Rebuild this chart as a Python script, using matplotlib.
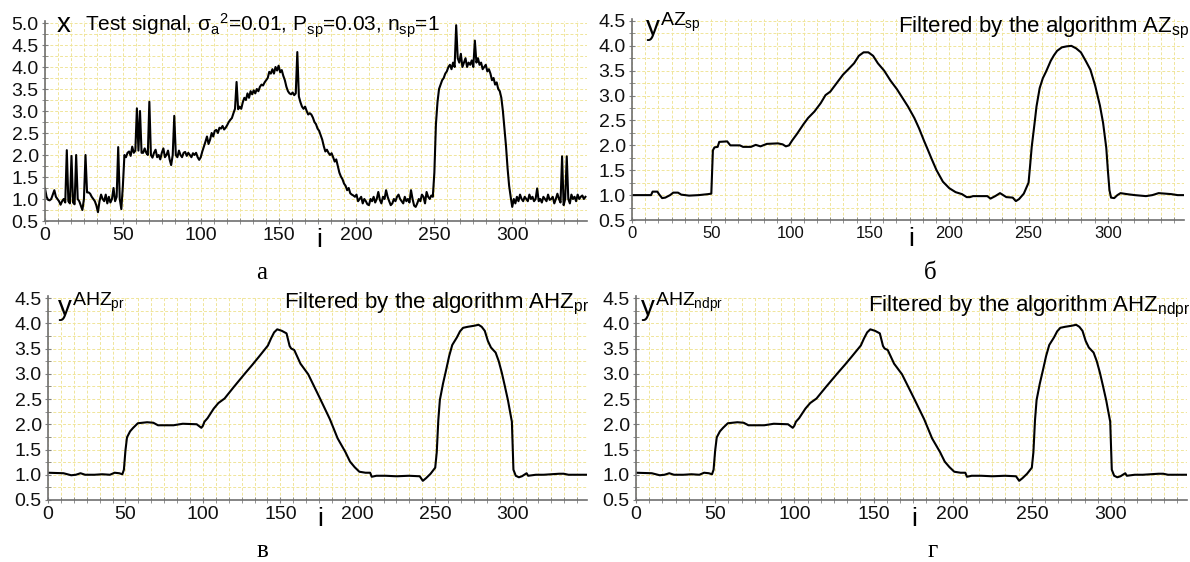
import numpy as np
import matplotlib.pyplot as plt
from matplotlib.ticker import MultipleLocator, FormatStrFormatter

plt.rcParams['font.family'] = 'Liberation Sans'
plt.rcParams['mathtext.fontset'] = 'custom'
plt.rcParams['mathtext.rm'] = 'Liberation Sans'
plt.rcParams['mathtext.it'] = 'Liberation Sans'
plt.rcParams['mathtext.sf'] = 'Liberation Sans'
plt.rcParams['mathtext.bf'] = 'Liberation Sans:bold'

# test signal x(i), i = 0..347
test_signal = [
    1.24, 1.05, 0.98, 0.97, 1.00, 1.10, 1.20, 1.05, 1.00, 0.95,
    0.87, 0.95, 1.00, 0.92, 2.11, 0.95, 0.90, 1.98, 0.92, 0.88,
    2.00, 1.00, 0.95, 0.85, 0.75, 1.00, 2.00, 1.15, 1.15, 1.12,
    1.05, 1.00, 0.95, 0.85, 0.70, 0.95, 1.10, 1.00, 0.95, 1.10,
    0.90, 1.05, 0.92, 1.00, 1.25, 0.95, 1.05, 2.18, 1.00, 0.77,
    1.30, 2.00, 1.95, 2.05, 2.08, 1.98, 2.19, 2.05, 2.10, 3.06,
    2.10, 3.00, 2.05, 2.05, 2.15, 2.05, 2.00, 3.21, 2.00, 1.94,
    2.05, 2.12, 1.95, 2.00, 1.90, 2.05, 2.15, 1.95, 2.00, 2.10,
    1.90, 1.77, 2.00, 2.89, 2.00, 1.95, 2.10, 2.00, 1.95, 2.05,
    2.07, 1.98, 2.05, 2.00, 1.95, 2.04, 2.00, 2.05, 1.95, 1.89,
    1.95, 2.08, 2.19, 2.30, 2.42, 2.25, 2.35, 2.50, 2.42, 2.55,
    2.57, 2.50, 2.62, 2.60, 2.66, 2.58, 2.62, 2.68, 2.75, 2.80,
    2.84, 2.95, 3.05, 3.66, 3.04, 3.10, 3.05, 3.20, 3.30, 3.25,
    3.40, 3.30, 3.45, 3.38, 3.47, 3.40, 3.50, 3.45, 3.55, 3.60,
    3.58, 3.65, 3.70, 3.75, 3.89, 3.85, 3.95, 3.85, 4.00, 3.92,
    4.03, 3.88, 3.93, 3.80, 3.70, 3.55, 3.45, 3.40, 3.38, 3.42,
    3.36, 3.40, 4.34, 3.33, 3.20, 3.10, 3.05, 3.10, 3.00, 2.92,
    2.95, 2.92, 2.85, 2.75, 2.70, 2.60, 2.55, 2.45, 2.35, 2.20,
    2.08, 2.12, 2.05, 2.00, 2.04, 1.95, 1.85, 1.90, 1.75, 1.60,
    1.51, 1.45, 1.35, 1.30, 1.20, 1.25, 1.13, 1.10, 1.08, 1.05,
    1.10, 0.95, 1.00, 1.05, 0.90, 1.00, 0.95, 0.88, 0.86, 1.00,
    0.95, 1.05, 0.92, 1.00, 1.16, 0.98, 0.90, 1.05, 1.00, 1.20,
    1.05, 0.95, 0.86, 0.90, 1.00, 0.95, 1.05, 1.10, 1.00, 0.95,
    0.90, 1.05, 0.95, 1.00, 0.92, 1.20, 1.00, 0.85, 0.82, 0.90,
    1.00, 0.95, 1.10, 1.05, 0.90, 1.16, 1.05, 1.00, 1.08, 1.05,
    1.60, 2.70, 3.20, 3.50, 3.60, 3.70, 3.75, 3.85, 3.90, 4.00,
    4.05, 3.95, 4.10, 4.00, 4.95, 4.20, 4.10, 4.30, 4.00, 4.10,
    4.20, 4.00, 4.10, 4.05, 4.15, 4.00, 4.60, 4.10, 4.20, 4.05,
    4.10, 3.95, 4.00, 4.05, 3.90, 3.95, 3.85, 3.70, 3.75, 3.60,
    3.65, 3.50, 3.45, 3.30, 3.00, 2.60, 2.20, 1.70, 1.30, 1.05,
    0.82, 1.00, 0.90, 1.05, 0.95, 1.10, 1.00, 0.95, 1.05, 1.00,
    0.95, 1.10, 1.00, 1.05, 0.95, 1.00, 1.24, 0.95, 1.00, 0.92,
    1.05, 1.00, 0.95, 1.10, 0.98, 1.00, 1.05, 0.90, 1.00, 1.12,
    1.00, 0.92, 1.97, 0.86, 1.00, 1.97, 1.00, 0.90, 1.10, 1.00,
    1.05, 0.95, 1.10, 1.00, 1.05, 1.08, 1.00, 1.05,
]

# filtered by AZ_sp
az_sp_i = [0, 12, 13, 16, 17, 19, 21, 24, 26, 29, 31, 36, 42, 48, 50, 51, 52, 54, 55, 60,
           62, 68, 70, 75, 78, 81, 85, 92, 95, 97, 99, 101, 104, 108, 111, 115, 119, 122, 125, 129,
           133, 137, 140, 143, 146, 149, 152, 155, 159, 163, 167, 171, 174, 178, 181, 184, 186, 189, 192, 196,
           200, 204, 208, 211, 213, 215, 224, 226, 229, 232, 234, 236, 240, 242, 244, 247, 250, 251, 252, 254,
           255, 257, 259, 261, 264, 266, 268, 271, 274, 277, 280, 283, 286, 289, 292, 295, 297, 299, 300, 301,
           302, 304, 306, 308, 312, 317, 324, 328, 332, 336, 340, 344, 348]
az_sp_y = [1.00, 1.00, 1.07, 1.07, 1.02, 0.94, 0.95, 1.00, 1.05, 1.05, 1.01, 0.99, 1.00, 1.02, 1.03, 1.90, 1.96, 1.97, 2.07, 2.08,
           2.00, 2.00, 1.97, 1.97, 2.01, 1.98, 2.03, 2.04, 2.02, 1.98, 2.00, 2.10, 2.23, 2.42, 2.55, 2.68, 2.85, 3.01, 3.08, 3.25,
           3.42, 3.55, 3.65, 3.80, 3.87, 3.87, 3.80, 3.65, 3.50, 3.30, 3.13, 2.93, 2.78, 2.55, 2.34, 2.10, 1.95, 1.72, 1.50, 1.27,
           1.14, 1.06, 1.02, 0.96, 0.96, 0.98, 0.98, 0.93, 0.98, 1.04, 1.00, 0.96, 0.95, 0.88, 0.92, 1.03, 1.25, 1.60, 1.97, 2.50,
           2.78, 3.15, 3.35, 3.48, 3.70, 3.81, 3.90, 3.97, 3.99, 4.00, 3.95, 3.87, 3.70, 3.52, 3.20, 2.80, 2.45, 1.95, 1.50, 1.10,
           0.95, 0.94, 1.00, 1.04, 1.02, 1.00, 0.98, 1.00, 1.04, 1.03, 1.02, 1.00, 1.00]

# filtered by AHZ_pr
ahz_pr_i = [0, 10, 15, 18, 21, 24, 30, 35, 40, 43, 46, 48, 49, 50, 51, 53, 55, 58, 64, 68,
            71, 81, 87, 96, 99, 100, 101, 103, 107, 110, 114, 120, 127, 132, 136, 142, 144, 146, 148, 151,
            154, 156, 157, 159, 163, 168, 175, 182, 187, 192, 195, 198, 201, 205, 208, 209, 212, 218, 225, 233,
            240, 242, 244, 247, 250, 251, 252, 253, 255, 257, 259, 261, 264, 266, 268, 271, 275, 278, 280, 282,
            284, 286, 289, 291, 293, 295, 297, 298, 299.5, 300.5, 302, 304, 306, 309, 310, 315, 320, 325, 330, 333,
            336, 340, 348]
ahz_pr_y = [1.04, 1.03, 0.99, 1.00, 1.03, 1.00, 1.00, 1.01, 1.00, 1.04, 1.03, 1.01, 1.10, 1.48, 1.74, 1.86, 1.93, 2.02, 2.04, 2.03,
            1.98, 1.98, 2.01, 2.00, 1.93, 1.97, 2.05, 2.12, 2.31, 2.42, 2.51, 2.74, 3.00, 3.18, 3.33, 3.56, 3.70, 3.82, 3.88, 3.85,
            3.80, 3.55, 3.50, 3.47, 3.20, 2.99, 2.55, 2.10, 1.72, 1.45, 1.26, 1.15, 1.06, 1.04, 1.04, 0.96, 0.98, 0.98, 0.97, 0.98,
            0.97, 0.88, 0.93, 1.02, 1.14, 1.45, 2.08, 2.48, 2.80, 3.07, 3.35, 3.57, 3.72, 3.84, 3.91, 3.93, 3.95, 3.97, 3.93, 3.85,
            3.65, 3.52, 3.42, 3.25, 3.02, 2.75, 2.47, 2.30, 2.05, 1.10, 0.98, 0.95, 0.97, 1.03, 0.98, 1.00, 1.00, 1.01, 1.02, 1.02,
            1.00, 1.00, 1.00]

# filtered by AHZ_ndpr (reads the same as AHZ_pr on the picture)
ahz_ndpr_i = ahz_pr_i
ahz_ndpr_y = ahz_pr_y

fig = plt.figure(figsize=(11.9, 5.62), dpi=100)

W, H = 1190, 562
def rect(l, r, b, t):
    return [l / W, 1 - b / H, (r - l) / W, (b - t) / H]

ax1 = fig.add_axes(rect(45, 587, 221, 20.8))
ax2 = fig.add_axes(rect(632, 1184, 220, 18.5))
ax3 = fig.add_axes(rect(48, 587, 500, 295.5))
ax4 = fig.add_axes(rect(636, 1187, 500, 295.5))

def style(ax, ytop, xfs, yfs):
    ax.set_xlim(0, 348)
    ax.set_ylim(0.5, ytop)
    ax.xaxis.set_major_locator(MultipleLocator(50))
    ax.xaxis.set_minor_locator(MultipleLocator(50 / 6))
    ax.yaxis.set_major_locator(MultipleLocator(0.5))
    ax.yaxis.set_minor_locator(MultipleLocator(0.25))
    ax.yaxis.set_major_formatter(FormatStrFormatter('%.1f'))
    for s in ('top', 'right'):
        ax.spines[s].set_visible(False)
    for s in ('left', 'bottom'):
        ax.spines[s].set_color('#707070')
        ax.spines[s].set_linewidth(1.2)
    ax.tick_params(which='both', direction='inout', color='#808080')
    ax.tick_params(which='major', length=5)
    ax.tick_params(which='minor', length=4)
    ax.tick_params(axis='x', labelsize=xfs, pad=2, labelcolor='#111111')
    ax.tick_params(axis='y', labelsize=yfs, pad=2, labelcolor='#111111')
    ax.grid(True, which='both', color='#f0e59a', ls=(0, (3, 2)), lw=0.7)
    ax.set_axisbelow(True)
    ax.annotate('i', xy=(176, 0), xycoords=('data', 'axes fraction'),
                xytext=(0, -5), textcoords='offset points',
                ha='center', va='top', fontsize=19)

style(ax1, 5.05, 14, 14)
style(ax2, 4.55, 12, 14)
style(ax3, 4.55, 14, 14)
style(ax4, 4.55, 14, 14)

ax1.plot(np.arange(len(test_signal)), test_signal, color='black', lw=1.5)
ax2.plot(az_sp_i, az_sp_y, color='black', lw=1.5)
ax3.plot(ahz_pr_i, ahz_pr_y, color='black', lw=1.5)
ax4.plot(ahz_ndpr_i, ahz_ndpr_y, color='black', lw=1.5)

# headers
ax1.text(0.022, 0.946, 'x', transform=ax1.transAxes, fontsize=20, va='baseline')
ax1.text(0.074, 0.946,
         r'Test signal, $\mathregular{\sigma_a{}^{2}}$=0.01, P$_{\mathregular{sp}}$=0.03, n$_{\mathregular{sp}}$=1',
         transform=ax1.transAxes, fontsize=15, va='baseline')

ax2.text(0.024, 0.913, r'$y^{AZ_{sp}}$', transform=ax2.transAxes, fontsize=20, va='baseline')
ax2.text(1.01, 0.933, r'Filtered by the algorithm AZ$_{sp}$', transform=ax2.transAxes,
         fontsize=16, ha='right', va='baseline')

ax3.text(0.017, 0.90, r'$y^{AHZ_{pr}}$', transform=ax3.transAxes, fontsize=20, va='baseline')
ax3.text(1.004, 0.939, r'Filtered by the algorithm AHZ$_{pr}$', transform=ax3.transAxes,
         fontsize=16, ha='right', va='baseline')

ax4.text(0.007, 0.90, r'$y^{AHZ_{ndpr}}$', transform=ax4.transAxes, fontsize=20, va='baseline')
ax4.text(1.007, 0.92, r'Filtered by the algorithm AHZ$_{ndpr}$', transform=ax4.transAxes,
         fontsize=16, ha='right', va='baseline')

# panel letters
for lab, px, py in [('а', 262, 279), ('б', 930, 279), ('в', 262, 557), ('г', 933, 557)]:
    fig.text(px / W, 1 - py / H, lab, family='Liberation Serif', fontsize=18,
             ha='center', va='baseline')

fig.savefig('out.png', dpi=100)
